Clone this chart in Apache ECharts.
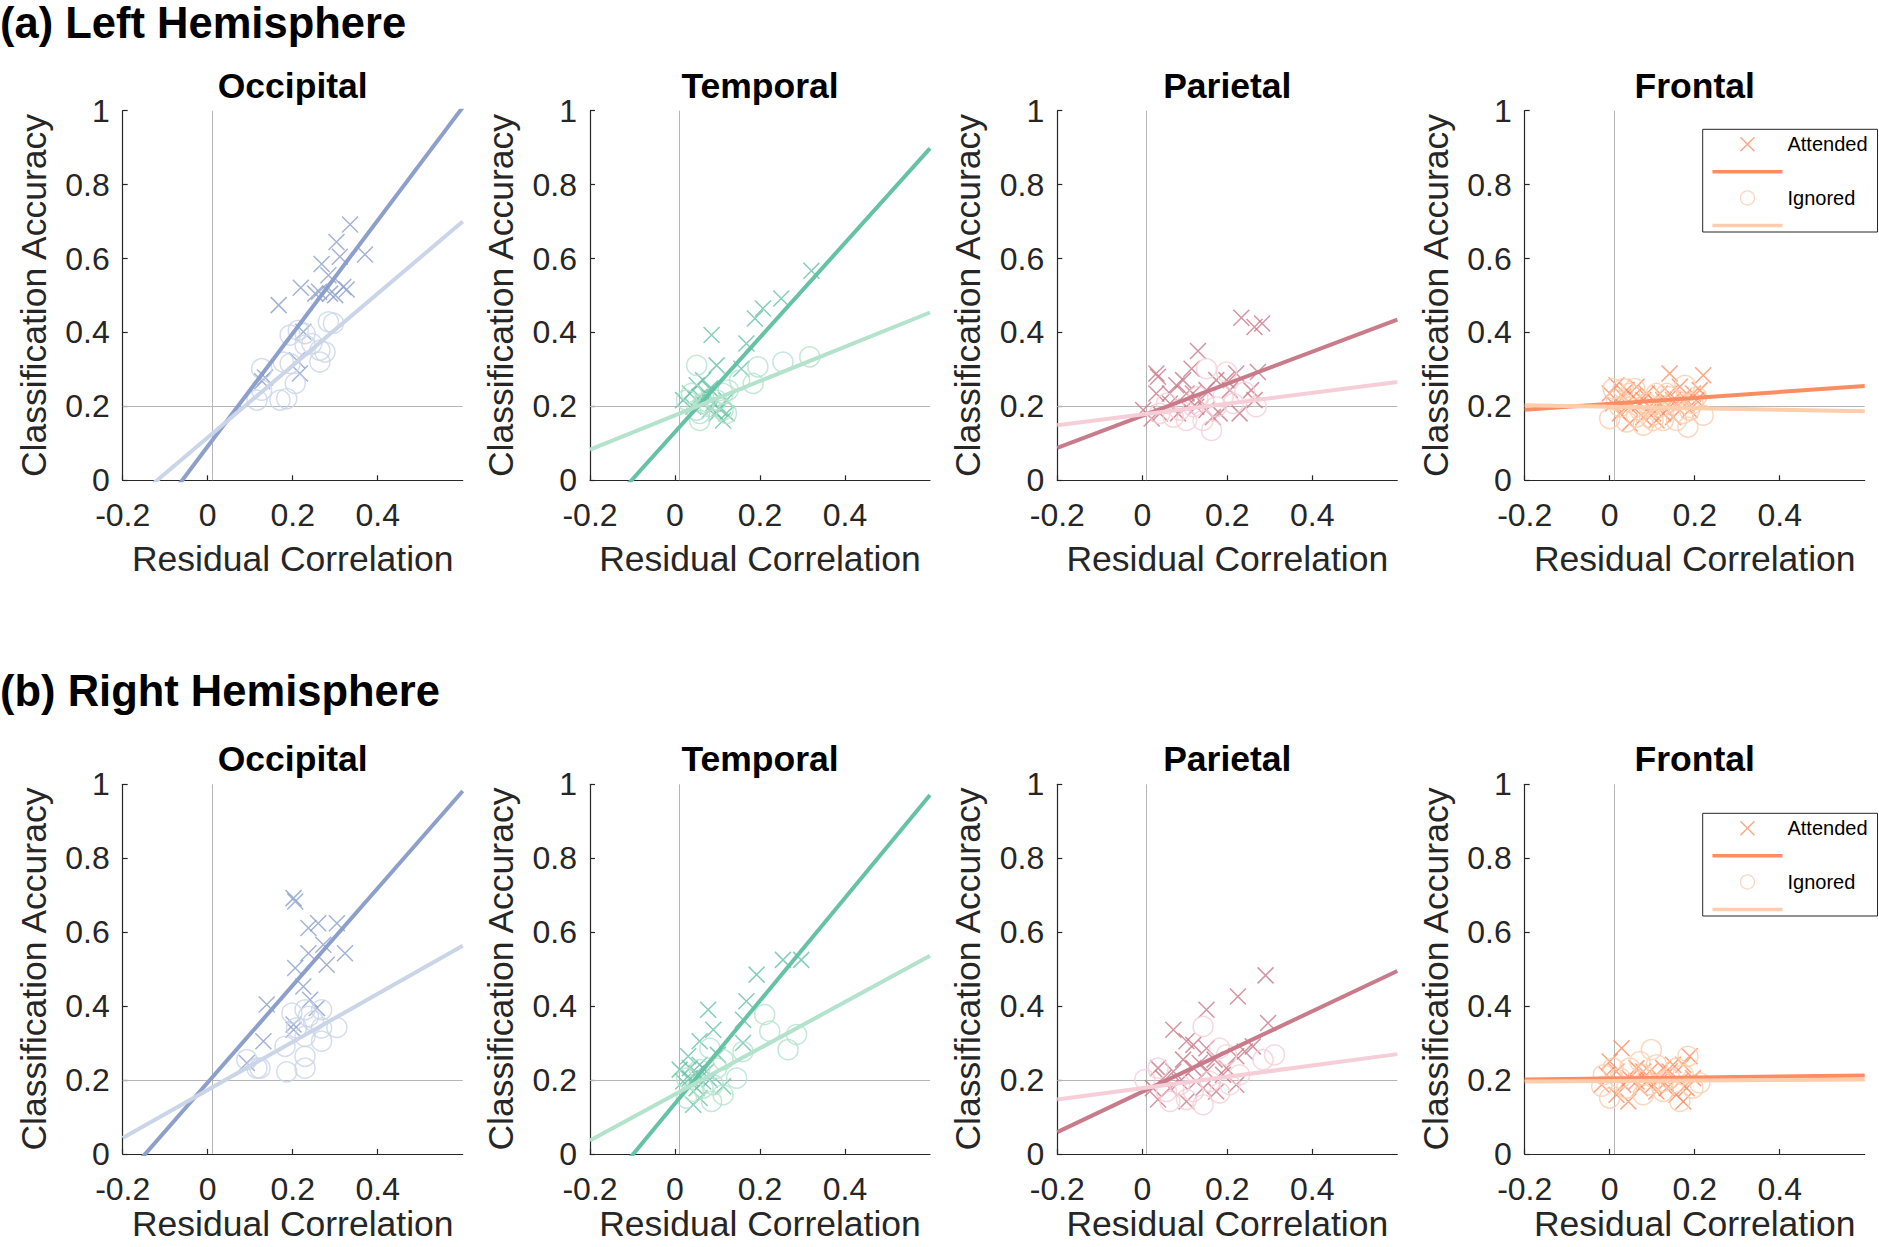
<!DOCTYPE html>
<html>
<head>
<meta charset="utf-8">
<script src="https://cdn.jsdelivr.net/npm/echarts@6/dist/echarts.min.js"></script>
<style>
  html, body { margin: 0; padding: 0; background: #fff; }
  #chart { width: 1879px; height: 1247px; }
</style>
</head>
<body>
<div id="chart"></div>
<script>
// 区域与半球
const regions = ['Occipital', 'Temporal', 'Parietal', 'Frontal'];
const hemispheres = ['(a) Left Hemisphere', '(b) Right Hemisphere'];
const xTicks = [-0.2, 0, 0.2, 0.4];
const attColors = ['#8da0cb', '#66c2a5', '#c97b8b', '#fc8d62'];
const ignColors = ['#cbd5e8', '#b3e2cd', '#f6ced8', '#fdcdac'];

// ---- Left hemisphere: [residual correlation, classification accuracy]
const leftOccAtt = [[0.167,0.474],[0.219,0.521],[0.335,0.692],[0.303,0.645],[0.370,0.611],[0.268,0.585],[0.311,0.605],[0.284,0.555],[0.253,0.505],[0.288,0.505],[0.319,0.523],[0.327,0.516],[0.300,0.501],[0.225,0.402],[0.210,0.325],[0.217,0.289],[0.135,0.278],[0.128,0.268],[0.262,0.510]];
const leftOccIgn = [[0.284,0.429],[0.296,0.425],[0.194,0.393],[0.213,0.406],[0.229,0.397],[0.245,0.370],[0.264,0.352],[0.276,0.347],[0.264,0.320],[0.178,0.320],[0.194,0.316],[0.127,0.302],[0.206,0.262],[0.127,0.244],[0.116,0.217],[0.170,0.217],[0.186,0.221],[0.229,0.366]];
const leftTemAtt = [[0.321,0.567],[0.250,0.492],[0.207,0.465],[0.188,0.438],[0.168,0.370],[0.086,0.393],[0.098,0.311],[0.156,0.302],[0.066,0.271],[0.051,0.257],[0.035,0.235],[0.019,0.217],[0.058,0.226],[0.074,0.235],[0.090,0.208],[0.105,0.194],[0.121,0.217],[0.113,0.162],[0.098,0.181],[0.082,0.190],[0.121,0.181],[0.066,0.208],[0.043,0.199],[0.082,0.248]];
const leftTemIgn = [[0.317,0.334],[0.254,0.320],[0.195,0.307],[0.184,0.262],[0.152,0.271],[0.125,0.244],[0.051,0.311],[0.039,0.235],[0.058,0.181],[0.058,0.162],[0.113,0.190],[0.121,0.181],[0.098,0.217],[0.082,0.199],[0.066,0.208],[0.027,0.217],[0.051,0.190],[0.113,0.235]];
const leftParAtt = [[0.233,0.440],[0.264,0.415],[0.282,0.424],[0.131,0.350],[0.033,0.289],[0.037,0.280],[0.116,0.302],[0.096,0.271],[0.080,0.257],[0.033,0.235],[0.002,0.190],[0.022,0.167],[0.041,0.181],[0.065,0.208],[0.084,0.181],[0.104,0.199],[0.119,0.235],[0.135,0.217],[0.151,0.190],[0.166,0.171],[0.182,0.181],[0.151,0.244],[0.174,0.271],[0.198,0.271],[0.221,0.289],[0.229,0.181],[0.256,0.244],[0.264,0.217],[0.272,0.293],[0.206,0.244],[0.127,0.199],[0.104,0.235],[0.065,0.235]];
const leftParIgn = [[0.151,0.302],[0.198,0.293],[0.163,0.135],[0.073,0.171],[0.088,0.190],[0.120,0.199],[0.143,0.162],[0.190,0.226],[0.241,0.239],[0.268,0.199],[0.057,0.208],[0.041,0.181],[0.174,0.199],[0.214,0.208],[0.131,0.226],[0.104,0.162]];
const leftFroAtt = [[0.141,0.289],[0.220,0.284],[0.000,0.235],[0.016,0.257],[0.032,0.226],[0.047,0.154],[0.071,0.208],[0.079,0.171],[0.094,0.199],[0.110,0.162],[0.126,0.217],[0.141,0.235],[0.157,0.199],[0.173,0.226],[0.188,0.190],[0.204,0.217],[0.212,0.244],[0.008,0.208],[0.024,0.181],[0.040,0.244],[0.055,0.226],[0.063,0.253],[0.087,0.235],[0.102,0.181],[0.118,0.235],[0.134,0.190],[0.149,0.171],[0.165,0.253],[0.181,0.208],[0.196,0.235],[0.079,0.217],[0.047,0.199],[0.110,0.208],[0.149,0.217],[0.126,0.181]];
const leftFroIgn = [[0.008,0.248],[0.000,0.167],[0.040,0.158],[0.079,0.149],[0.047,0.235],[0.094,0.171],[0.126,0.162],[0.157,0.162],[0.184,0.144],[0.220,0.176],[0.177,0.257],[0.204,0.226],[0.141,0.226],[0.110,0.235],[0.071,0.190],[0.024,0.199],[0.118,0.199],[0.157,0.217],[0.188,0.190],[0.016,0.217],[0.063,0.171],[0.087,0.208],[0.134,0.235],[0.173,0.181],[0.196,0.208],[0.032,0.248],[0.059,0.248],[0.102,0.162]];

// ---- Right hemisphere
const rightOccAtt = [[0.202,0.692],[0.206,0.683],[0.237,0.611],[0.260,0.624],[0.304,0.624],[0.272,0.566],[0.237,0.543],[0.323,0.543],[0.280,0.512],[0.206,0.503],[0.225,0.453],[0.241,0.417],[0.257,0.395],[0.139,0.404],[0.202,0.350],[0.202,0.336],[0.131,0.305],[0.092,0.246]];
const rightOccIgn = [[0.268,0.390],[0.198,0.381],[0.229,0.390],[0.237,0.372],[0.249,0.359],[0.304,0.342],[0.268,0.341],[0.229,0.318],[0.268,0.305],[0.182,0.291],[0.229,0.264],[0.229,0.232],[0.186,0.222],[0.092,0.255],[0.116,0.232],[0.123,0.232],[0.209,0.341]];
const rightTemAtt = [[0.297,0.525],[0.254,0.525],[0.192,0.485],[0.168,0.413],[0.078,0.390],[0.160,0.363],[0.090,0.336],[0.058,0.305],[0.160,0.300],[0.031,0.264],[0.101,0.268],[0.011,0.228],[0.035,0.232],[0.058,0.241],[0.074,0.223],[0.066,0.196],[0.051,0.178],[0.043,0.133],[0.058,0.151],[0.113,0.183],[0.019,0.196],[0.035,0.205],[0.082,0.201],[0.051,0.219]];
const rightTemIgn = [[0.211,0.377],[0.223,0.332],[0.286,0.323],[0.266,0.282],[0.160,0.277],[0.145,0.205],[0.082,0.286],[0.113,0.255],[0.027,0.151],[0.086,0.142],[0.113,0.160],[0.090,0.187],[0.066,0.178],[0.043,0.169],[0.027,0.205],[0.058,0.228],[0.098,0.232]];
const rightParAtt = [[0.290,0.483],[0.225,0.426],[0.151,0.390],[0.296,0.354],[0.073,0.336],[0.104,0.305],[0.120,0.295],[0.260,0.291],[0.151,0.286],[0.221,0.264],[0.241,0.277],[0.198,0.232],[0.221,0.187],[0.170,0.255],[0.096,0.255],[0.037,0.232],[0.049,0.205],[0.065,0.178],[0.037,0.147],[0.104,0.142],[0.127,0.196],[0.151,0.223],[0.174,0.169],[0.073,0.223],[0.120,0.232],[0.088,0.196],[0.143,0.178],[0.190,0.214],[0.135,0.246],[0.025,0.178]];
const rightParIgn = [[0.143,0.345],[0.311,0.268],[0.284,0.255],[0.006,0.201],[0.037,0.232],[0.182,0.286],[0.198,0.268],[0.229,0.214],[0.206,0.187],[0.182,0.165],[0.143,0.133],[0.104,0.147],[0.065,0.142],[0.057,0.169],[0.120,0.169],[0.088,0.187],[0.159,0.196]];
const rightFroAtt = [[0.028,0.286],[0.000,0.250],[0.188,0.264],[0.173,0.241],[0.044,0.142],[-0.019,0.187],[-0.007,0.214],[0.016,0.223],[0.032,0.187],[0.047,0.205],[0.063,0.232],[0.071,0.178],[0.087,0.196],[0.094,0.223],[0.110,0.169],[0.118,0.205],[0.134,0.178],[0.141,0.223],[0.157,0.160],[0.165,0.196],[0.181,0.178],[0.196,0.205],[0.016,0.160],[0.079,0.223],[0.126,0.232],[0.149,0.241],[0.063,0.196],[0.102,0.187],[0.173,0.142]];
const rightFroIgn = [[0.098,0.282],[0.184,0.264],[-0.019,0.183],[0.000,0.151],[-0.015,0.214],[0.212,0.192],[0.165,0.142],[0.126,0.169],[0.079,0.160],[0.040,0.178],[0.024,0.205],[0.047,0.232],[0.079,0.214],[0.110,0.241],[0.141,0.205],[0.173,0.214],[0.196,0.178],[0.094,0.187],[0.126,0.196],[0.071,0.250],[0.157,0.232],[0.008,0.232]];

// ---- least-squares lines, ends read at x = -0.2 and x = 0.6
const leftOccAttFit = [[-0.2,-0.214],[0.6,1.009]];
const leftOccIgnFit = [[-0.2,-0.079],[0.6,0.700]];
const leftTemAttFit = [[-0.2,-0.125],[0.6,0.898]];
const leftTemIgnFit = [[-0.2,0.083],[0.6,0.454]];
const leftParAttFit = [[-0.2,0.088],[0.6,0.435]];
const leftParIgnFit = [[-0.2,0.149],[0.6,0.266]];
const leftFroAttFit = [[-0.2,0.191],[0.6,0.255]];
const leftFroIgnFit = [[-0.2,0.203],[0.6,0.187]];
const rightOccAttFit = [[-0.2,-0.070],[0.6,0.982]];
const rightOccIgnFit = [[-0.2,0.043],[0.6,0.563]];
const rightTemAttFit = [[-0.2,-0.142],[0.6,0.971]];
const rightTemIgnFit = [[-0.2,0.036],[0.6,0.536]];
const rightParAttFit = [[-0.2,0.059],[0.6,0.495]];
const rightParIgnFit = [[-0.2,0.147],[0.6,0.270]];
const rightFroAttFit = [[-0.2,0.201],[0.6,0.212]];
const rightFroIgnFit = [[-0.2,0.196],[0.6,0.201]];

const panels = [
    [
        { att: leftOccAtt, ign: leftOccIgn, attFit: leftOccAttFit, ignFit: leftOccIgnFit },
        { att: leftTemAtt, ign: leftTemIgn, attFit: leftTemAttFit, ignFit: leftTemIgnFit },
        { att: leftParAtt, ign: leftParIgn, attFit: leftParAttFit, ignFit: leftParIgnFit },
        { att: leftFroAtt, ign: leftFroIgn, attFit: leftFroAttFit, ignFit: leftFroIgnFit }
    ],
    [
        { att: rightOccAtt, ign: rightOccIgn, attFit: rightOccAttFit, ignFit: rightOccIgnFit },
        { att: rightTemAtt, ign: rightTemIgn, attFit: rightTemAttFit, ignFit: rightTemIgnFit },
        { att: rightParAtt, ign: rightParIgn, attFit: rightParAttFit, ignFit: rightParIgnFit },
        { att: rightFroAtt, ign: rightFroIgn, attFit: rightFroAttFit, ignFit: rightFroIgnFit }
    ]
];

// 布局
const FONT = '"Liberation Sans", Arial, Helvetica, sans-serif';
const AXIS_COLOR = '#262626';
const gridLefts = [122.7, 590, 1057.3, 1524.7];
const gridTops = [110.7, 784.3];
const gridW = 340;
const gridH = 369.6;
const headerTops = [1, 669];
const legendTops = [129.3, 813.3];
const xNameGaps = [64, 55];
const crossSymbol = 'path://M0,0L10,10M0,10L10,0';

const chart = echarts.init(document.getElementById('chart'), null, { renderer: 'svg' });

const grids = [], xAxes = [], yAxes = [], series = [], titles = [];

hemispheres.forEach((h, r) => {
    titles.push({
        text: h, left: 0, top: headerTops[r], padding: 0,
        textStyle: { fontSize: 43.5, fontWeight: 'bold', color: '#000', fontFamily: FONT }
    });
});

panels.forEach((row, r) => {
    row.forEach((p, c) => {
        const gi = r * 4 + c;
        const frontal = regions[c] === 'Frontal';
        const tag = frontal ? '' : regions[c] + (r === 0 ? ' L ' : ' R ');
        grids.push({
            left: gridLefts[c], top: gridTops[r], width: gridW, height: gridH,
            outerBoundsMode: 'none'
        });
        titles.push({
            text: regions[c], left: gridLefts[c] + gridW / 2, top: gridTops[r] - 43,
            textAlign: 'center', padding: 0,
            textStyle: { fontSize: 35.5, fontWeight: 'bold', color: '#000', fontFamily: FONT }
        });
        xAxes.push({
            type: 'value', gridIndex: gi, min: -0.2, max: 0.6, interval: 0.2,
            name: 'Residual Correlation', nameLocation: 'middle', nameGap: xNameGaps[r],
            nameMoveOverlap: false,
            nameTextStyle: { fontSize: 35.5, lineHeight: 30, color: AXIS_COLOR, fontFamily: FONT },
            axisLine: { show: true, onZero: false, lineStyle: { color: AXIS_COLOR, width: 1.2 } },
            axisTick: { show: true, inside: true, length: 5, customValues: xTicks,
                        lineStyle: { color: AXIS_COLOR, width: 1.2 } },
            axisLabel: { customValues: xTicks, fontSize: 32, margin: 19, color: AXIS_COLOR,
                         fontFamily: FONT, alignMinLabel: 'center', alignMaxLabel: 'center' },
            splitLine: { show: false }
        });
        yAxes.push({
            type: 'value', gridIndex: gi, min: 0, max: 1, interval: 0.2,
            name: 'Classification Accuracy', nameLocation: 'middle', nameGap: 71,
            nameMoveOverlap: false,
            nameTextStyle: { fontSize: 35.5, color: AXIS_COLOR, fontFamily: FONT },
            axisLine: { show: true, onZero: false, lineStyle: { color: AXIS_COLOR, width: 1.2 } },
            axisTick: { show: true, inside: true, length: 5, lineStyle: { color: AXIS_COLOR, width: 1.2 } },
            axisLabel: { fontSize: 32, margin: 13, color: AXIS_COLOR, fontFamily: FONT,
                         verticalAlignMinLabel: 'middle', verticalAlignMaxLabel: 'middle' },
            splitLine: { show: false }
        });

        // attended: crosses
        series.push({
            name: tag + 'Attended', type: 'scatter', xAxisIndex: gi, yAxisIndex: gi,
            data: p.att, symbol: crossSymbol, symbolSize: 16, z: 3,
            itemStyle: { color: 'rgba(0,0,0,0)', borderColor: attColors[c], borderWidth: 1.5 },
            emphasis: { disabled: true },
            markLine: {
                silent: true, symbol: 'none', z: 1, animation: false,
                label: { show: false },
                lineStyle: { color: '#b5b5b5', width: 1, type: 'solid' },
                data: [{ xAxis: 0.01 }, { yAxis: 0.2 }]
            }
        });
        series.push({
            name: tag + 'Attended fit', type: 'line', xAxisIndex: gi, yAxisIndex: gi,
            data: p.attFit, symbol: 'none', showSymbol: false, z: 4,
            lineStyle: { color: attColors[c], width: 4 }, itemStyle: { color: attColors[c] },
            emphasis: { disabled: true }
        });
        // ignored: open circles
        series.push({
            name: tag + 'Ignored', type: 'scatter', xAxisIndex: gi, yAxisIndex: gi,
            data: p.ign, symbol: 'circle', symbolSize: 20, z: 3,
            itemStyle: { color: 'rgba(0,0,0,0)', borderColor: ignColors[c], borderWidth: 1.5 },
            emphasis: { disabled: true }
        });
        series.push({
            name: tag + 'Ignored fit', type: 'line', xAxisIndex: gi, yAxisIndex: gi,
            data: p.ignFit, symbol: 'none', showSymbol: false, z: 4,
            lineStyle: { color: ignColors[c], width: 4 }, itemStyle: { color: ignColors[c] },
            emphasis: { disabled: true }
        });
    });
});

const legends = legendTops.map(top => ({
    orient: 'vertical', left: 1702.7, top: top,
    data: ['Attended', { name: 'Attended fit', itemStyle: { opacity: 0 } },
           'Ignored', { name: 'Ignored fit', itemStyle: { opacity: 0 } }],
    formatter: name => (name.endsWith('fit') ? '' : name),
    itemWidth: 70, itemHeight: 14, itemGap: 10.5,
    padding: [5, 10, 1, 8],
    borderColor: AXIS_COLOR, borderWidth: 1, backgroundColor: '#fff',
    selectedMode: false,
    itemStyle: { borderWidth: 1.3 },
    lineStyle: { width: 3.5 },
    textStyle: { fontSize: 20, color: '#000', fontFamily: FONT }
}));

chart.setOption({
    animation: false,
    backgroundColor: '#fff',
    title: titles,
    grid: grids,
    xAxis: xAxes,
    yAxis: yAxes,
    legend: legends,
    series: series
});

window.addEventListener('resize', () => chart.resize());
</script>
</body>
</html>
